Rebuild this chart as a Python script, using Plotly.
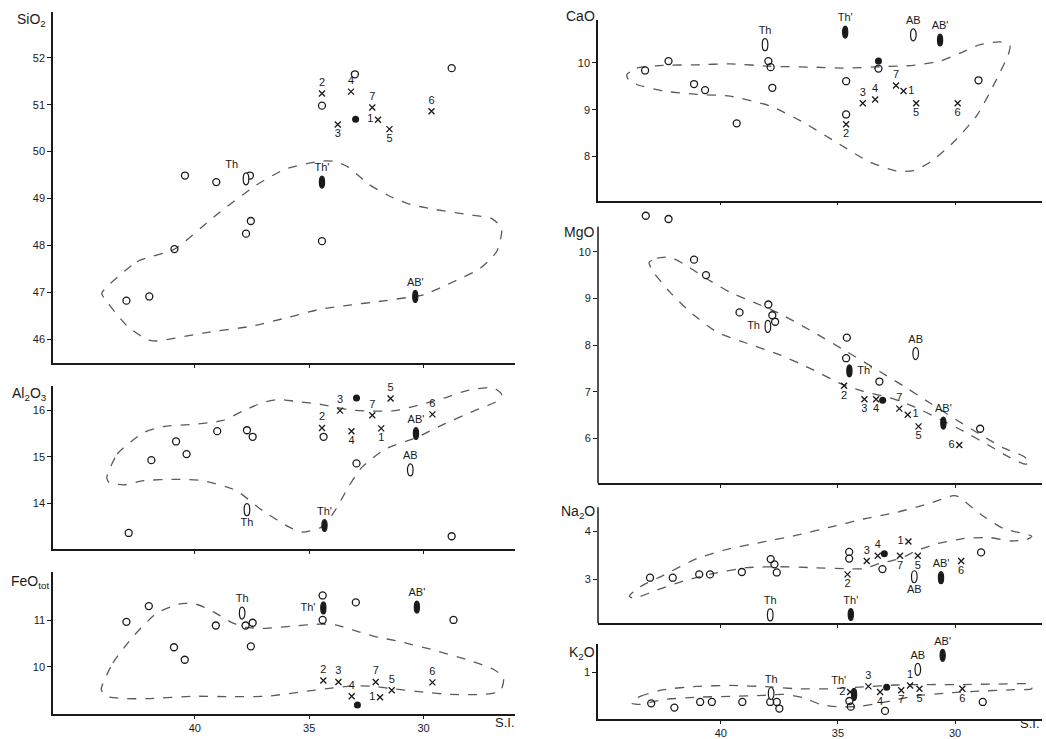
import plotly.graph_objects as go

W, H = 1046, 739

# ---------------- DATA ----------------
SI_TICKS = [40, 35, 30]
NUM_LABELS = ["1", "2", "3", "4", "5", "6", "7"]

# SiO2
sio2_open_x = [33.0, 34.44, 28.77, 40.43, 39.06, 37.59, 37.55, 37.76, 34.44, 40.89, 41.99, 42.99]
sio2_open_y = [51.65, 50.98, 51.78, 49.49, 49.35, 49.49, 48.52, 48.25, 48.09, 47.92, 46.91, 46.82]
sio2_dot_x = [32.97]
sio2_dot_y = [50.69]
sio2_num_x = [31.99, 34.44, 33.75, 33.17, 31.49, 29.65, 32.24]
sio2_num_y = [50.68, 51.24, 50.58, 51.28, 50.48, 50.86, 50.94]
sio2_ell_name = ["Th", "Th'", "AB'"]
sio2_ell_x = [37.76, 34.44, 30.36]
sio2_ell_y = [49.42, 49.35, 46.91]
sio2_env_x = [44.07, 42.53, 40.89, 39.06, 37.33, 36.03, 34.44, 33.87, 33.29, 32.42, 31.56, 30.69, 29.54, 28.1, 27.01, 26.58, 26.8, 27.52, 28.67, 29.97, 30.4, 32.0, 33.15, 34.59, 36.03, 37.47, 39.64, 41.66, 42.09, 42.96, 43.97, 44.07]
sio2_env_y = [46.98, 47.65, 47.92, 48.65, 49.28, 49.63, 49.8, 49.79, 49.67, 49.31, 49.07, 48.89, 48.77, 48.66, 48.57, 48.36, 47.87, 47.51, 47.23, 46.95, 46.91, 46.8, 46.73, 46.63, 46.45, 46.28, 46.13, 45.96, 45.99, 46.28, 46.88, 46.98]

# Al2O3
al2o3_open_x = [42.89, 41.9, 40.82, 40.36, 39.02, 37.72, 37.47, 34.37, 32.93, 28.77]
al2o3_open_y = [13.37, 14.93, 15.33, 15.06, 15.55, 15.57, 15.43, 15.43, 14.86, 13.3]
al2o3_dot_x = [32.93]
al2o3_dot_y = [16.26]
al2o3_num_x = [31.85, 34.44, 33.65, 33.15, 31.44, 29.61, 32.24]
al2o3_num_y = [15.61, 15.62, 15.99, 15.55, 16.25, 15.91, 15.89]
al2o3_ell_name = ["Th", "Th'", "AB", "AB'"]
al2o3_ell_x = [37.72, 34.33, 30.58, 30.33]
al2o3_ell_y = [13.87, 13.53, 14.72, 15.5]
al2o3_env_x = [43.85, 43.39, 42.24, 41.37, 39.93, 38.77, 37.91, 37.04, 36.32, 35.6, 34.44, 33.29, 32.42, 31.27, 30.12, 29.11, 28.1, 26.94, 26.58, 26.8, 27.81, 29.11, 30.33, 31.7, 32.71, 33.29, 33.87, 34.44, 35.31, 35.89, 37.04, 38.2, 39.64, 40.79, 42.24, 43.1, 43.75, 43.85]
al2o3_env_y = [14.56, 15.06, 15.52, 15.65, 15.7, 15.78, 15.98, 16.16, 16.23, 16.19, 16.12, 16.01, 15.98, 15.99, 16.12, 16.26, 16.42, 16.48, 16.33, 16.19, 15.98, 15.7, 15.41, 15.16, 14.77, 14.35, 13.85, 13.5, 13.39, 13.5, 13.85, 14.28, 14.49, 14.52, 14.49, 14.4, 14.45, 14.56]

# FeO tot
feo_open_x = [42.99, 42.01, 40.91, 40.44, 39.08, 37.78, 37.47, 37.55, 34.41, 34.41, 32.96, 28.69]
feo_open_y = [10.97, 11.31, 10.42, 10.15, 10.89, 10.89, 10.95, 10.44, 11.54, 11.01, 11.39, 11.01]
feo_dot_x = [32.89]
feo_dot_y = [9.17]
feo_num_x = [31.9, 34.38, 33.72, 33.14, 31.39, 29.61, 32.09]
feo_num_y = [9.34, 9.7, 9.67, 9.36, 9.49, 9.66, 9.67]
feo_ell_name = ["Th", "Th'", "AB'"]
feo_ell_x = [37.93, 34.38, 30.29]
feo_ell_y = [11.16, 11.27, 11.29]
feo_env_x = [44.09, 43.58, 42.7, 41.68, 40.66, 39.93, 39.2, 38.32, 37.74, 36.86, 35.69, 34.53, 33.8, 33.07, 32.19, 31.02, 29.56, 28.1, 26.93, 26.5, 26.64, 27.37, 28.83, 30.0, 31.31, 32.34, 33.21, 33.94, 35.11, 36.86, 38.32, 40.07, 41.97, 43.14, 43.87, 44.09]
feo_env_y = [9.51, 10.08, 10.65, 11.15, 11.36, 11.35, 11.19, 10.94, 10.85, 10.83, 10.88, 10.92, 10.9, 10.79, 10.66, 10.54, 10.36, 10.15, 9.94, 9.76, 9.47, 9.4, 9.4, 9.45, 9.52, 9.58, 9.58, 9.54, 9.47, 9.36, 9.35, 9.36, 9.31, 9.31, 9.36, 9.51]

# CaO
cao_open_x = [43.23, 42.23, 41.14, 40.67, 39.32, 37.97, 37.87, 37.8, 34.65, 34.65, 33.27, 29.0]
cao_open_y = [9.84, 10.04, 9.55, 9.42, 8.71, 10.04, 9.91, 9.47, 9.61, 8.9, 9.88, 9.63]
cao_dot_x = [33.27]
cao_dot_y = [10.04]
cao_num_x = [32.2, 34.65, 33.94, 33.41, 31.66, 29.89, 32.52]
cao_num_y = [9.4, 8.69, 9.14, 9.22, 9.14, 9.14, 9.52]
cao_ell_name = ["Th", "Th'", "AB", "AB'"]
cao_ell_x = [38.11, 34.69, 31.78, 30.64]
cao_ell_y = [10.39, 10.66, 10.6, 10.49]
cao_env_x = [44.01, 43.58, 42.45, 41.02, 39.6, 37.89, 36.04, 34.62, 33.2, 31.78, 30.64, 29.79, 28.94, 28.09, 27.66, 27.73, 28.23, 29.08, 30.08, 31.07, 31.78, 32.49, 33.63, 35.05, 36.47, 37.89, 39.6, 41.02, 42.45, 43.58, 43.94, 44.01]
cao_env_y = [9.75, 9.89, 9.95, 9.96, 9.98, 9.93, 9.91, 9.89, 9.92, 9.95, 10.04, 10.21, 10.39, 10.45, 10.37, 10.18, 9.65, 8.87, 8.3, 7.88, 7.7, 7.69, 7.88, 8.3, 8.73, 9.08, 9.29, 9.33, 9.4, 9.54, 9.65, 9.75]

# MgO
mgo_open_x = [43.2, 42.23, 41.14, 40.63, 39.2, 37.97, 37.8, 37.68, 34.62, 34.65, 33.23, 28.93]
mgo_open_y = [10.77, 10.7, 9.83, 9.5, 8.7, 8.87, 8.64, 8.5, 8.16, 7.72, 7.22, 6.21]
mgo_dot_x = [33.09]
mgo_dot_y = [6.82]
mgo_num_x = [32.02, 34.74, 33.87, 33.37, 31.56, 29.82, 32.38]
mgo_num_y = [6.51, 7.13, 6.84, 6.84, 6.26, 5.86, 6.64]
mgo_ell_name = ["Th", "Th'", "AB", "AB'"]
mgo_ell_x = [37.99, 34.51, 31.68, 30.5]
mgo_ell_y = [8.4, 7.45, 7.82, 6.33]
mgo_env_x = [43.06, 42.73, 42.16, 41.45, 40.6, 39.6, 38.46, 37.47, 36.05, 34.62, 33.2, 32.06, 31.07, 30.07, 28.94, 27.94, 27.08, 26.8, 27.01, 27.65, 28.51, 29.65, 30.64, 31.78, 32.77, 33.91, 34.91, 36.05, 37.47, 38.89, 40.17, 41.31, 42.16, 42.87, 43.06]
mgo_env_y = [9.77, 9.86, 9.88, 9.7, 9.42, 9.13, 8.89, 8.67, 8.28, 7.86, 7.43, 7.08, 6.76, 6.44, 6.09, 5.8, 5.62, 5.48, 5.45, 5.59, 5.84, 6.16, 6.41, 6.69, 6.87, 7.01, 7.18, 7.47, 7.79, 8.04, 8.28, 8.71, 9.13, 9.56, 9.77]

# Na2O
na2o_open_x = [43.02, 42.05, 40.92, 40.46, 39.1, 37.87, 37.71, 37.61, 34.52, 34.52, 33.1, 28.89]
na2o_open_y = [3.03, 3.03, 3.1, 3.1, 3.15, 3.42, 3.31, 3.14, 3.57, 3.43, 3.21, 3.56]
na2o_dot_x = [33.02]
na2o_dot_y = [3.53]
na2o_num_x = [31.99, 34.59, 33.77, 33.3, 31.59, 29.74, 32.35]
na2o_num_y = [3.79, 3.1, 3.38, 3.49, 3.49, 3.38, 3.49]
na2o_ell_name = ["Th", "Th'", "AB", "AB'"]
na2o_ell_x = [37.89, 34.45, 31.74, 30.6]
na2o_ell_y = [2.25, 2.26, 3.05, 3.03]
na2o_env_x = [43.87, 43.44, 42.45, 41.02, 39.6, 38.18, 36.76, 35.33, 33.91, 32.49, 31.07, 30.07, 29.86, 28.94, 27.94, 26.73, 26.94, 27.65, 28.51, 29.65, 30.78, 31.63, 32.35, 33.2, 33.91, 34.62, 36.05, 37.47, 38.89, 40.31, 41.73, 42.73, 43.72, 43.9, 43.87]
na2o_env_y = [2.67, 2.84, 3.08, 3.43, 3.64, 3.78, 3.92, 4.09, 4.26, 4.4, 4.59, 4.75, 4.73, 4.37, 4.06, 3.9, 3.83, 3.8, 3.87, 3.85, 3.74, 3.6, 3.43, 3.33, 3.22, 3.22, 3.24, 3.26, 3.24, 3.12, 2.94, 2.77, 2.6, 2.64, 2.67]

# K2O
k2o_open_x = [42.97, 41.98, 40.88, 40.38, 39.08, 37.89, 37.61, 37.5, 34.51, 34.45, 32.99, 28.82]
k2o_open_y = [0.34, 0.25, 0.37, 0.37, 0.37, 0.37, 0.37, 0.23, 0.39, 0.27, 0.18, 0.37]
k2o_dot_x = [32.92]
k2o_dot_y = [0.68]
k2o_num_x = [31.92, 34.48, 33.7, 33.2, 31.52, 29.69, 32.3]
k2o_num_y = [0.72, 0.58, 0.7, 0.58, 0.65, 0.65, 0.62]
k2o_ell_name = ["Th", "Th'", "AB", "AB'"]
k2o_ell_x = [37.85, 34.31, 31.59, 30.53]
k2o_ell_y = [0.55, 0.53, 1.06, 1.36]
k2o_env_x = [43.8, 43.44, 42.45, 41.02, 39.6, 37.89, 36.76, 35.33, 33.91, 32.49, 31.07, 29.65, 28.22, 26.73, 26.73, 27.51, 28.93, 30.36, 31.78, 32.77, 33.49, 34.2, 35.05, 35.76, 36.47, 37.33, 38.18, 39.6, 41.02, 42.45, 43.44, 43.8, 43.8]
k2o_env_y = [0.37, 0.49, 0.63, 0.7, 0.72, 0.69, 0.65, 0.65, 0.69, 0.73, 0.74, 0.74, 0.75, 0.74, 0.65, 0.63, 0.6, 0.56, 0.49, 0.39, 0.32, 0.27, 0.27, 0.32, 0.46, 0.53, 0.51, 0.49, 0.47, 0.42, 0.32, 0.34, 0.37]

# ---------------- STYLE / LAYOUT ----------------
FONT = "Liberation Sans, Arial, sans-serif"
INK = "#1a1a1a"
ENV = "#5a5a5a"

def px(p):
    return p / W

def py(p):
    return 1 - p / H

LEFT_X = dict(dom=(53, 515), rng=(46.2, 26.0))
RIGHT_X = dict(dom=(598, 1042), rng=(45.24, 26.29))

panels = [
    dict(name="SiO<sub>2</sub>", col=LEFT_X, ydom=(12, 365), yrng=(45.49, 52.98), yt=[46, 47, 48, 49, 50, 51, 52],
         d=(sio2_open_x, sio2_open_y, sio2_dot_x, sio2_dot_y, sio2_num_x, sio2_num_y, sio2_ell_name, sio2_ell_x, sio2_ell_y, sio2_env_x, sio2_env_y),
         numpos=["middle left", "top center", "bottom center", "top center", "bottom center", "top center", "top center"],
         ellpos=["top left", "top center", "top center"], title_xy=(48, 20), xlabels=False),
    dict(name="Al<sub>2</sub>O<sub>3</sub>", col=LEFT_X, ydom=(388, 552.3), yrng=(13.02, 16.52), yt=[14, 15, 16],
         d=(al2o3_open_x, al2o3_open_y, al2o3_dot_x, al2o3_dot_y, al2o3_num_x, al2o3_num_y, al2o3_ell_name, al2o3_ell_x, al2o3_ell_y, al2o3_env_x, al2o3_env_y),
         numpos=["bottom center", "top center", "top center", "bottom center", "top center", "top center", "top center"],
         ellpos=["bottom center", "top center", "top center", "top center"], title_xy=(49, 396), xlabels=False),
    dict(name="FeO<sub>tot</sub>", col=LEFT_X, ydom=(575, 717.7), yrng=(8.98, 12.05), yt=[10, 11],
         d=(feo_open_x, feo_open_y, feo_dot_x, feo_dot_y, feo_num_x, feo_num_y, feo_ell_name, feo_ell_x, feo_ell_y, feo_env_x, feo_env_y),
         numpos=["middle left", "top center", "top center", "top center", "top center", "top center", "top center"],
         ellpos=["top center", "middle left", "top center"], title_xy=(51, 585), xlabels=True),
    dict(name="CaO", col=RIGHT_X, ydom=(20, 201.7), yrng=(7.06, 10.92), yt=[8, 9, 10],
         d=(cao_open_x, cao_open_y, cao_dot_x, cao_dot_y, cao_num_x, cao_num_y, cao_ell_name, cao_ell_x, cao_ell_y, cao_env_x, cao_env_y),
         numpos=["middle right", "bottom center", "top center", "top center", "bottom center", "bottom center", "top center"],
         ellpos=["top center", "top center", "top center", "top center"], title_xy=(597, 16), xlabels=False),
    dict(name="MgO", col=RIGHT_X, ydom=(212.7, 486), yrng=(5.04, 10.86), yt=[6, 7, 8, 9, 10], axtop=228,
         d=(mgo_open_x, mgo_open_y, mgo_dot_x, mgo_dot_y, mgo_num_x, mgo_num_y, mgo_ell_name, mgo_ell_x, mgo_ell_y, mgo_env_x, mgo_env_y),
         numpos=["middle right", "bottom center", "bottom center", "bottom center", "bottom center", "middle left", "top center"],
         ellpos=["middle left", "middle right", "top center", "top center"], title_xy=(596, 233), xlabels=False),
    dict(name="Na<sub>2</sub>O", col=RIGHT_X, ydom=(493.5, 626.7), yrng=(2.075, 4.85), yt=[3, 4], axtop=510,
         d=(na2o_open_x, na2o_open_y, na2o_dot_x, na2o_dot_y, na2o_num_x, na2o_num_y, na2o_ell_name, na2o_ell_x, na2o_ell_y, na2o_env_x, na2o_env_y),
         numpos=["middle left", "bottom center", "top center", "top center", "bottom center", "bottom center", "bottom center"],
         ellpos=["top center", "top center", "bottom center", "top center"], title_xy=(597, 515), xlabels=False),
    dict(name="K<sub>2</sub>O", col=RIGHT_X, ydom=(648, 723.3), yrng=(0.0, 1.59), yt=[1],
         d=(k2o_open_x, k2o_open_y, k2o_dot_x, k2o_dot_y, k2o_num_x, k2o_num_y, k2o_ell_name, k2o_ell_x, k2o_ell_y, k2o_env_x, k2o_env_y),
         numpos=["top center", "middle left", "top center", "bottom center", "bottom center", "bottom center", "bottom center"],
         ellpos=["top center", "top left", "top center", "top center"], title_xy=(597, 657), xlabels=True),
]

fig = go.Figure()
shapes = []
annotations = []
layout_axes = {}

for i, p in enumerate(panels, start=1):
    xa = "x" if i == 1 else f"x{i}"
    ya = "y" if i == 1 else f"y{i}"
    (ox, oy, dx, dy, nx, ny, en, ex, ey, vx, vy) = p["d"]

    # envelope
    fig.add_trace(go.Scatter(x=vx, y=vy, mode="lines", xaxis=xa, yaxis=ya,
                             line=dict(color=ENV, width=1.3, dash="dash", shape="spline", smoothing=0.6),
                             hoverinfo="skip", showlegend=False))
    # open circles
    fig.add_trace(go.Scatter(x=ox, y=oy, mode="markers", xaxis=xa, yaxis=ya, cliponaxis=False,
                             marker=dict(symbol="circle-open", size=7, color=INK, line=dict(width=1.3)),
                             showlegend=False))
    # filled circle
    fig.add_trace(go.Scatter(x=dx, y=dy, mode="markers", xaxis=xa, yaxis=ya, cliponaxis=False,
                             marker=dict(symbol="circle", size=7, color=INK),
                             showlegend=False))
    # numbered crosses
    fig.add_trace(go.Scatter(x=nx, y=ny, mode="markers+text", xaxis=xa, yaxis=ya, cliponaxis=False,
                             text=NUM_LABELS, textposition=p["numpos"],
                             textfont=dict(family=FONT, size=11, color=INK),
                             marker=dict(symbol="x-thin-open", size=6, color=INK, line=dict(width=1.3, color=INK)),
                             showlegend=False))
    # ellipse labels
    fig.add_trace(go.Scatter(x=ex, y=ey, mode="markers+text", xaxis=xa, yaxis=ya, cliponaxis=False,
                             text=en, textposition=p["ellpos"],
                             textfont=dict(family=FONT, size=11, color=INK),
                             marker=dict(size=11, color="rgba(0,0,0,0)"),
                             showlegend=False))
    for n, x, y in zip(en, ex, ey):
        filled = n.endswith("'")
        shapes.append(dict(type="circle", xref=xa, yref=ya, xsizemode="pixel", ysizemode="pixel",
                           xanchor=x, yanchor=y, x0=-2.6 if filled else -2.8, x1=2.6 if filled else 2.8,
                           y0=-6, y1=6,
                           line=dict(color=INK, width=1.2),
                           fillcolor=INK if filled else "white", layer="above"))

    col = p["col"]
    axkey = "xaxis" if i == 1 else f"xaxis{i}"
    aykey = "yaxis" if i == 1 else f"yaxis{i}"
    layout_axes[axkey] = dict(domain=[px(col["dom"][0]), px(col["dom"][1])], range=list(col["rng"]),
                              anchor=ya, showgrid=False, zeroline=False, showline=True,
                              linecolor=INK, linewidth=1.5, ticks="outside", ticklen=3, tickwidth=1.2,
                              tickcolor=INK, tickvals=SI_TICKS, showticklabels=p["xlabels"],
                              tickfont=dict(family=FONT, size=11, color=INK))
    custom_line = "axtop" in p
    layout_axes[aykey] = dict(domain=[py(p["ydom"][1]), py(p["ydom"][0])], range=list(p["yrng"]),
                              anchor=xa, showgrid=False, zeroline=False, showline=not custom_line,
                              linecolor=INK, linewidth=1.5, ticks="outside", ticklen=4, tickwidth=1.2,
                              tickcolor=INK, tickvals=p["yt"],
                              tickfont=dict(family=FONT, size=11, color=INK))
    if custom_line:
        shapes.append(dict(type="line", xref="paper", yref="paper",
                           x0=px(col["dom"][0]), x1=px(col["dom"][0]),
                           y0=py(p["ydom"][1]), y1=py(p["axtop"]),
                           line=dict(color=INK, width=1.5)))
    tx, ty = p["title_xy"]
    annotations.append(dict(text=p["name"], x=px(tx), y=py(ty), xref="paper", yref="paper",
                            xanchor="right", yanchor="middle", showarrow=False,
                            font=dict(family=FONT, size=14, color=INK)))

# S.I. labels
annotations.append(dict(text="S.I.", x=px(505), y=py(726), xref="paper", yref="paper",
                        xanchor="center", yanchor="middle", showarrow=False,
                        font=dict(family=FONT, size=13, color=INK)))
annotations.append(dict(text="S.I.", x=px(1030), y=py(727), xref="paper", yref="paper",
                        xanchor="center", yanchor="middle", showarrow=False,
                        font=dict(family=FONT, size=13, color=INK)))

fig.update_layout(width=W, height=H, margin=dict(l=0, r=0, t=0, b=0),
                  paper_bgcolor="white", plot_bgcolor="white",
                  shapes=shapes, annotations=annotations, showlegend=False,
                  **layout_axes)

fig.write_html("out.html", config={"displayModeBar": False},
               post_script="document.body.style.margin='0';document.body.style.padding='0';document.body.style.overflow='hidden';")
